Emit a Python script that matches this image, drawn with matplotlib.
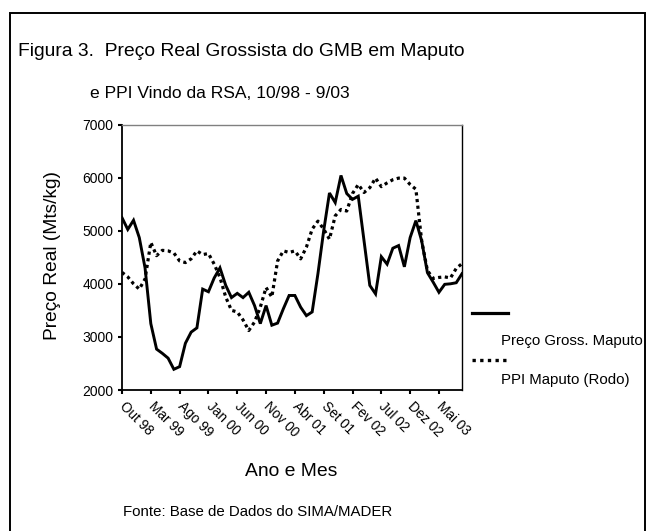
import matplotlib
matplotlib.use("Agg")
import matplotlib.pyplot as plt
from matplotlib.patches import Rectangle
from matplotlib.lines import Line2D
from matplotlib.transforms import ScaledTranslation

# ---- data ----
tick_labels = ["Out 98", "Mar 99", "Ago 99", "Jan 00", "Jun 00", "Nov 00",
               "Abr 01", "Set 01", "Fev 02", "Jul 02", "Dez 02", "Mai 03"]
preco_gross = [5245, 5024, 5196, 4870, 4300, 3250, 2770, 2690, 2600, 2390,
               2440, 2880, 3090, 3170, 3900, 3850, 4110, 4300, 3970, 3740,
               3820, 3740, 3840, 3590, 3250, 3590, 3220, 3260, 3530, 3780,
               3780, 3560, 3400, 3470, 4190, 5000, 5710, 5530, 6040, 5700,
               5590, 5650, 4810, 3970, 3810, 4510, 4370, 4670, 4720, 4320,
               4870, 5190, 4810, 4210, 4030, 3840, 3990, 4000, 4020, 4190]
ppi_maputo = [4215, 4130, 4000, 3900, 4090, 4780, 4530, 4630, 4620, 4580,
              4430, 4400, 4470, 4620, 4550, 4570, 4370, 4120, 3750, 3500,
              3470, 3320, 3120, 3280, 3560, 3930, 3750, 4430, 4620, 4590,
              4620, 4470, 4690, 5030, 5180, 5030, 4840, 5280, 5400, 5370,
              5700, 5870, 5720, 5810, 5990, 5830, 5900, 5960, 5990, 5990,
              5870, 5780, 4810, 4250, 4100, 4120, 4130, 4110, 4290, 4380]
series_names = ["Preço Gross. Maputo", "PPI Maputo (Rodo)"]

FONT = ["Liberation Sans", "DejaVu Sans"]
plt.rcParams["font.family"] = FONT

W, H = 646, 531
fig = plt.figure(figsize=(W / 100, H / 100), dpi=100)

def fx(px):
    return px / W

def fy(py):
    return 1 - py / H

# outer frame
fig.patches.append(Rectangle((fx(10), fy(545)), fx(644.5) - fx(10), fy(13) - fy(545),
                             transform=fig.transFigure, fill=False,
                             edgecolor="black", linewidth=1.4))

ax = fig.add_axes([fx(122), fy(390), fx(462) - fx(122), fy(124.5) - fy(390)])
x = list(range(len(preco_gross)))
ax.plot(x, preco_gross, color="black", linewidth=2.1, solid_joinstyle="miter")
ax.plot(x, ppi_maputo, color="black", linewidth=2.3, linestyle=(0, (1, 1.1)))

ax.set_xlim(0, len(x) - 1)
ax.set_ylim(2000, 7000)
ax.set_yticks(range(2000, 7001, 1000))
ax.set_xticks(range(0, len(x), 5))
ax.set_xticklabels(tick_labels, rotation=-45, ha="left", va="center",
                   rotation_mode="anchor", fontsize=9.8)
offset = ScaledTranslation(8 / 100, 1 / 100, fig.dpi_scale_trans)
for t in ax.get_xticklabels():
    t.set_transform(t.get_transform() + offset)
for t in ax.get_yticklabels():
    t.set_fontsize(10)
ax.tick_params(axis="both", direction="out", length=3, width=1.5, color="black", pad=3)
ax.tick_params(axis="x", pad=7)

ax.spines["left"].set_linewidth(1.3)
ax.spines["bottom"].set_linewidth(1.3)
ax.spines["top"].set_color("#808080")
ax.spines["top"].set_linewidth(1.0)
ax.spines["right"].set_color("black")
ax.spines["right"].set_linewidth(1.0)

fig.text(fx(53), fy(256), "Preço Real (Mts/kg)", fontsize=13.8, rotation=90,
         ha="center", va="center")

# titles and texts
fig.text(fx(18), fy(51), "Figura 3.  Preço Real Grossista do GMB em Maputo",
         fontsize=13.9, ha="left", va="center")
fig.text(fx(90), fy(93), "e PPI Vindo da RSA, 10/98 - 9/03",
         fontsize=12.6, ha="left", va="center")
fig.text(fx(291), fy(472), "Ano e Mes", fontsize=13.9, ha="center", va="center")
fig.text(fx(123), fy(512), "Fonte: Base de Dados do SIMA/MADER",
         fontsize=10.8, ha="left", va="center")

# legend (manual, Excel style)
fig.lines.append(Line2D([fx(472), fx(508)], [fy(313), fy(313)], transform=fig.transFigure,
                        color="black", linewidth=2.3))
fig.text(fx(501), fy(341), series_names[0], fontsize=10.8, ha="left", va="center")
fig.lines.append(Line2D([fx(472), fx(508)], [fy(360), fy(360)], transform=fig.transFigure,
                        color="black", linewidth=2.4, linestyle=(0, (1, 1.3))))
fig.text(fx(501), fy(380), series_names[1], fontsize=10.8, ha="left", va="center")

fig.savefig("out.png", dpi=100)
